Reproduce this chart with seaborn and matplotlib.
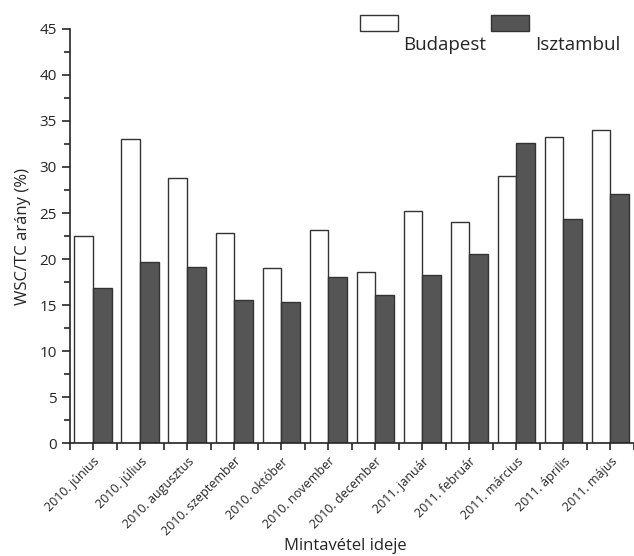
import pandas as pd
import numpy as np
import matplotlib.pyplot as plt
import seaborn as sns
from matplotlib.patches import Rectangle
from matplotlib.ticker import MultipleLocator

# Adatok (leolvasva az ábráról)
honapok = ['2010. június', '2010. július', '2010. augusztus', '2010. szeptember',
           '2010. október', '2010. november', '2010. december', '2011. január',
           '2011. február', '2011. március', '2011. április', '2011. május']
budapest = [22.5, 33.0, 28.8, 22.8, 19.0, 23.2, 18.6, 25.2, 24.0, 29.0, 33.3, 34.0]
isztambul = [16.9, 19.7, 19.1, 15.6, 15.3, 18.1, 16.1, 18.3, 20.6, 32.6, 24.4, 27.1]
varosok = ['Budapest', 'Isztambul']
szinek = ['white', '#555555']

df = pd.DataFrame({
    'honap': honapok * 2,
    'arany': budapest + isztambul,
    'varos': [varosok[0]] * len(honapok) + [varosok[1]] * len(honapok),
})

sns.set_style('ticks')
plt.rcParams['font.family'] = ['Open Sans', 'DejaVu Sans']

fig = plt.figure(figsize=(6.34, 5.56), dpi=100)
ax = fig.add_axes([0.110, 0.203, 0.89, 0.745])

sns.barplot(data=df, x='honap', y='arany', hue='varos', hue_order=varosok,
            palette=szinek, edgecolor='#333333', linewidth=1, width=0.8,
            legend=False, ax=ax)

ax.set_xlim(-0.5, len(honapok) - 0.5)
ax.set_ylim(0, 45)
ax.yaxis.set_major_locator(MultipleLocator(5))
ax.yaxis.set_minor_locator(MultipleLocator(2.5))
ax.set_xticks(np.arange(len(honapok)))
ax.set_xticks(np.arange(len(honapok) + 1) - 0.5, minor=True)
ax.set_xticklabels(honapok, rotation=45, ha='right', rotation_mode='anchor', fontsize=9)
ax.tick_params(axis='y', labelsize=11, length=6, width=1.2, direction='out')
ax.tick_params(axis='y', which='minor', length=4, width=1.2)
ax.tick_params(axis='x', length=5, width=1.2, direction='out')
ax.tick_params(axis='x', which='minor', length=5, width=1.2)
for s in ['left', 'bottom']:
    ax.spines[s].set_linewidth(1.2)
sns.despine(ax=ax)

ax.set_xlabel('Mintavétel ideje', fontsize=12)
ax.xaxis.set_label_coords(0.488, -0.228)
ax.set_ylabel('WSC/TC arány (%)', fontsize=12, labelpad=6)

# Jelmagyarázat a tengely fölött
for x0, xt, szin, nev in [(0.568, 0.636, szinek[0], varosok[0]),
                          (0.774, 0.844, szinek[1], varosok[1])]:
    fig.add_artist(Rectangle((x0, 0.944), 0.060, 0.029, transform=fig.transFigure,
                             facecolor=szin, edgecolor='#333333', linewidth=1))
    fig.text(xt, 0.919, nev, fontsize=13.5, va='center', ha='left')

plt.savefig('out.png', dpi=100)
plt.close()
